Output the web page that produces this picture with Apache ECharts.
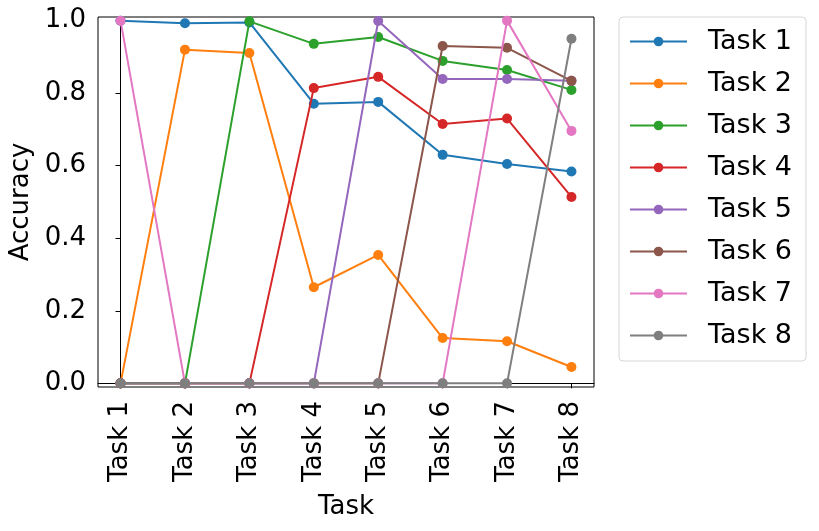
<!DOCTYPE html>
<html>
<head>
<meta charset="utf-8">
<script src="https://cdn.jsdelivr.net/npm/echarts@6/dist/echarts.min.js"></script>
<style>
  html, body { margin: 0; padding: 0; background: #fff; }
  #chart { width: 819px; height: 531px; }
</style>
</head>
<body>
<div id="chart"></div>
<script>
// tick labels along x
const tasks = ['Task 1', 'Task 2', 'Task 3', 'Task 4', 'Task 5', 'Task 6', 'Task 7', 'Task 8'];
const yTicks = [0, 0.2, 0.4, 0.6, 0.8, 1.0];

// accuracy of each task's test set after training on task 1..8
const task1 = [1.0, 0.993, 0.995, 0.771, 0.776, 0.630, 0.605, 0.584];
const task2 = [0, 0.920, 0.911, 0.265, 0.354, 0.125, 0.116, 0.045];
const task3 = [0, 0, 0.998, 0.936, 0.955, 0.889, 0.864, 0.809];
const task4 = [0, 0, 0, 0.814, 0.845, 0.715, 0.730, 0.514];
const task5 = [0, 0, 0, 0, 0.999, 0.839, 0.839, 0.834];
const task6 = [0, 0, 0, 0, 0, 0.930, 0.925, 0.834];
const task7 = [1.0, 0, 0, 0, 0, 0, 1.0, 0.696];
const task8 = [0, 0, 0, 0, 0, 0, 0, 0.950];

const seriesValues = [task1, task2, task3, task4, task5, task6, task7, task8];
const colors = ['#1f77b4', '#ff7f0e', '#2ca02c', '#d62728', '#9467bd', '#8c564b', '#e377c2', '#7f7f7f'];

const font = 'DejaVu Sans';

const chart = echarts.init(document.getElementById('chart'));

const option = {
  animation: false,
  color: colors,
  textStyle: { fontFamily: font },
  grid: {
    left: 98, right: 225, top: 17, bottom: 144,
    containLabel: false, outerBoundsMode: 'none',
    show: true, borderColor: '#000', borderWidth: 1, backgroundColor: 'transparent'
  },
  legend: {
    orient: 'vertical',
    left: 619, top: 17,
    padding: [11, 14, 12, 10],
    itemWidth: 57, itemHeight: 12,
    itemGap: 15,
    borderColor: '#d6d6d6', borderWidth: 1, borderRadius: 4,
    textStyle: { fontSize: 27, color: '#000', fontFamily: font, padding: [0, 0, 0, 16] },
    data: tasks
  },
  xAxis: {
    type: 'value',
    min: -0.35, max: 7.35,
    name: 'Task', nameLocation: 'middle', nameGap: 107,
    nameTextStyle: { fontSize: 26, color: '#000', fontFamily: font },
    splitLine: { show: false },
    axisLine: { show: true, lineStyle: { color: '#000' } },
    axisTick: { show: true, length: 5, lineStyle: { color: '#000' }, customValues: tasks.map((t, i) => i) },
    axisLabel: {
      rotate: 90, fontSize: 26, color: '#000', margin: 14, fontFamily: font,
      customValues: tasks.map((t, i) => i),
      formatter: v => tasks[Math.round(v)]
    }
  },
  yAxis: {
    type: 'value',
    min: -0.01, max: 1.01,
    name: 'Accuracy', nameLocation: 'middle', nameGap: 50,
    nameTextStyle: { fontSize: 26, color: '#000', fontFamily: font },
    splitLine: { show: false },
    axisLine: { show: true, lineStyle: { color: '#000' } },
    axisTick: { show: true, length: 5, lineStyle: { color: '#000' }, customValues: yTicks },
    axisLabel: {
      fontSize: 26, color: '#000', margin: 12, fontFamily: font,
      customValues: yTicks,
      formatter: v => v.toFixed(1)
    }
  },
  series: seriesValues.map((vals, k) => ({
    name: tasks[k],
    type: 'line',
    data: vals.map((v, i) => [i, v]),
    symbol: 'circle',
    symbolSize: 10,
    showSymbol: true,
    lineStyle: { width: 2 },
    itemStyle: { color: colors[k] },
    z: 2 + k
  }))
};

chart.setOption(option);
</script>
</body>
</html>
